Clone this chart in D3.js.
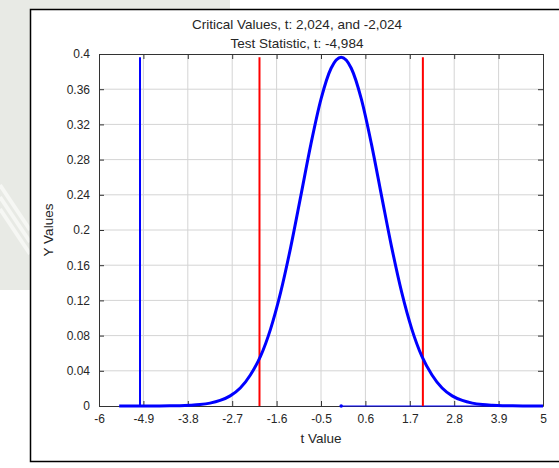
<!DOCTYPE html>
<html>
<head>
<meta charset="utf-8">
<script src="https://cdn.jsdelivr.net/npm/d3@7"></script>
<style>
  body { margin: 0; background: #fff; }
  svg { display: block; font-family: "Liberation Sans", Arial, sans-serif; }
</style>
</head>
<body>
<div id="chart"></div>
<script>
// t distribution curve
let tValues = [-5.5, -5.25, -5, -4.75, -4.5, -4.25, -4, -3.75, -3.5, -3.25, -3, -2.75, -2.5, -2.25, -2, -1.75, -1.5, -1.25, -1, -0.75, -0.5, -0.25,
  0, 0.25, 0.5, 0.75, 1, 1.25, 1.5, 1.75, 2, 2.25, 2.5, 2.75, 3, 3.25, 3.5, 3.75, 4, 4.25, 4.5, 4.75, 5];
let yValues = [0.000005, 0.00001, 0.00002, 0.00005, 0.0001, 0.0002, 0.0004, 0.0009, 0.0017, 0.0033, 0.0063, 0.0115, 0.0204, 0.0353, 0.0563, 0.0874, 0.1291, 0.1806, 0.2388, 0.2976, 0.3487, 0.3838,
  0.3963, 0.3838, 0.3487, 0.2976, 0.2388, 0.1806, 0.1291, 0.0874, 0.0563, 0.0353, 0.0204, 0.0115, 0.0063, 0.0033, 0.0017, 0.0009, 0.0004, 0.0002, 0.0001, 0.00005, 0.00002];

// thin zero line from the second series
let baseX = [0, 5];
let baseY = [0, 0];

let criticalValues = [-2.024, 2.024];
let testStatistic = -4.984;
let lineTop = 0.3963;

let xTicks = [-6, -4.9, -3.8, -2.7, -1.6, -0.5, 0.6, 1.7, 2.8, 3.9, 5];
let yTicks = [0, 0.04, 0.08, 0.12, 0.16, 0.2, 0.24, 0.28, 0.32, 0.36, 0.4];

let titleLines = ["Critical Values, t: 2,024, and -2,024", "Test Statistic, t: -4,984"];

let width = 559, height = 468;
let margin = { top: 54, left: 99, right: 16, bottom: 62 };
let w = width - margin.left - margin.right, h = height - margin.top - margin.bottom;
let textColor = "#262626";

let svg = d3.select("#chart").append("svg")
  .attr("width", width)
  .attr("height", height);

// faint watermark behind the figure
let wm = svg.append("g").attr("fill", "#e8eae5");
wm.append("rect").attr("x", 0).attr("y", 0).attr("width", 30).attr("height", 290);
wm.append("rect").attr("x", 30).attr("y", 0).attr("width", 200).attr("height", 9);
svg.append("g").attr("stroke", "#f6f7f4").attr("stroke-width", 4)
  .selectAll("line").data([0, 12, 24]).enter().append("line")
  .attr("x1", 0).attr("y1", d => 185 + d).attr("x2", 30).attr("y2", d => 230 + d);

// figure box
svg.append("rect")
  .attr("x", 30.5).attr("y", 9.5)
  .attr("width", 540).attr("height", 452)
  .attr("fill", "#fff").attr("stroke", "#000").attr("stroke-width", 1.5);

let g = svg.append("g").attr("transform", `translate(${margin.left},${margin.top})`);

let x = d3.scaleLinear().domain([-6, 5]).range([0, w]);
let y = d3.scaleLinear().domain([0, 0.4]).range([h, 0]);

// grid
g.append("g").selectAll("line").data(xTicks.slice(1, -1)).enter().append("line")
  .attr("x1", d => x(d)).attr("x2", d => x(d))
  .attr("y1", 0).attr("y2", h)
  .attr("stroke", "#d4d4d4");
g.append("g").selectAll("line").data(yTicks.slice(1, -1)).enter().append("line")
  .attr("x1", 0).attr("x2", w)
  .attr("y1", d => y(d)).attr("y2", d => y(d))
  .attr("stroke", "#d4d4d4");

// axes with inward ticks
let fmt = d => String(d);
let axBottom = g.append("g").attr("transform", `translate(0,${h})`)
  .call(d3.axisBottom(x).tickValues(xTicks).tickFormat(fmt).tickSizeInner(-5).tickSizeOuter(0).tickPadding(8));
let axLeft = g.append("g")
  .call(d3.axisLeft(y).tickValues(yTicks).tickFormat(fmt).tickSizeInner(-5).tickSizeOuter(0).tickPadding(9));
let axTop = g.append("g")
  .call(d3.axisTop(x).tickValues(xTicks).tickFormat("").tickSizeInner(-5).tickSizeOuter(0));
let axRight = g.append("g").attr("transform", `translate(${w},0)`)
  .call(d3.axisRight(y).tickValues(yTicks).tickFormat("").tickSizeInner(-5).tickSizeOuter(0));

[axBottom, axLeft, axTop, axRight].forEach(a => {
  a.select(".domain").attr("stroke", "#333");
  a.selectAll(".tick line").attr("stroke", "#333");
  a.selectAll(".tick text").attr("fill", textColor).attr("font-size", "12px")
    .attr("font-family", "'Liberation Sans', Arial, sans-serif");
});

// thin line along zero
let pts = baseX.map((d, i) => [d, baseY[i]]);
g.append("path")
  .attr("d", d3.line().x(d => x(d[0])).y(d => y(d[1]))(pts))
  .attr("fill", "none").attr("stroke", "#0000ff").attr("stroke-width", 1);
g.append("circle").attr("cx", x(baseX[0])).attr("cy", y(baseY[0])).attr("r", 1.8).attr("fill", "#0000ff");

// critical values
g.append("g").selectAll("line").data(criticalValues).enter().append("line")
  .attr("x1", d => x(d)).attr("x2", d => x(d))
  .attr("y1", y(0)).attr("y2", y(lineTop))
  .attr("stroke", "#ff0000").attr("stroke-width", 2);

// test statistic
g.append("line")
  .attr("x1", x(testStatistic)).attr("x2", x(testStatistic))
  .attr("y1", y(0)).attr("y2", y(lineTop))
  .attr("stroke", "#0000ff").attr("stroke-width", 2);

// distribution curve
let curve = tValues.map((d, i) => [d, yValues[i]]);
g.append("path")
  .attr("d", d3.line().x(d => x(d[0])).y(d => y(d[1])).curve(d3.curveMonotoneX)(curve))
  .attr("fill", "none").attr("stroke", "#0000ff").attr("stroke-width", 3);

// titles and labels
svg.append("g").selectAll("text").data(titleLines).enter().append("text")
  .attr("x", 297).attr("y", (d, i) => 29 + i * 19)
  .attr("text-anchor", "middle").attr("font-size", "13.5px").attr("fill", textColor)
  .text(d => d);

svg.append("text")
  .attr("x", margin.left + w / 2).attr("y", 443)
  .attr("text-anchor", "middle").attr("font-size", "13.5px").attr("fill", textColor)
  .text("t Value");

svg.append("text")
  .attr("transform", `translate(53,${margin.top + h / 2}) rotate(-90)`)
  .attr("text-anchor", "middle").attr("font-size", "13.5px").attr("fill", textColor)
  .text("Y Values");
</script>
</body>
</html>
